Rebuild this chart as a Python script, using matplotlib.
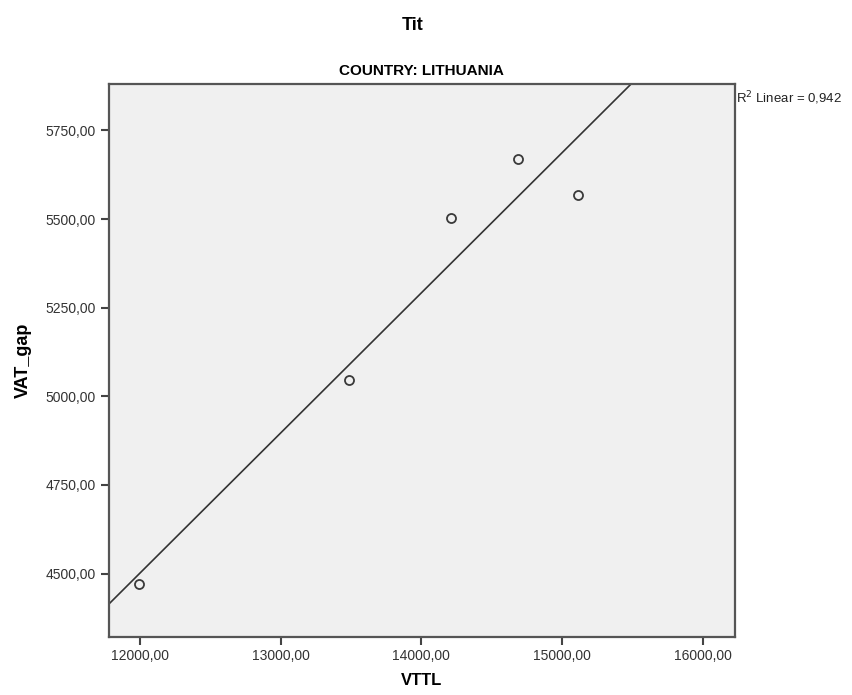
import numpy as np
import matplotlib
matplotlib.use("Agg")
import matplotlib.pyplot as plt
from matplotlib.ticker import FuncFormatter

# VTTL vs VAT_gap, Lithuania
vttl = [11995, 13485, 14208, 14684, 15115]
vat_gap = [4470, 5045, 5502, 5670, 5569]
x_ticks = [12000, 13000, 14000, 15000, 16000]
y_ticks = [4500, 4750, 5000, 5250, 5500, 5750]

plt.rcParams['font.family'] = ['Liberation Sans', 'DejaVu Sans']

fig = plt.figure(figsize=(8.53, 6.95), dpi=100)
ax = fig.add_axes([0.1272, 0.0839, 0.7345, 0.7948])
ax.set_facecolor('#f0f0f0')

xlim = (11776, 16230)
ylim = (4322, 5880)
ax.set_xlim(*xlim)
ax.set_ylim(*ylim)

# linear fit line across the whole x range
slope, icpt = np.polyfit(vttl, vat_gap, 1)
xx = np.array(xlim)
ax.plot(xx, slope * xx + icpt, color='#333333', lw=1.2, zorder=2)

pred = slope * np.array(vttl) + icpt
ss_res = np.sum((np.array(vat_gap) - pred) ** 2)
ss_tot = np.sum((np.array(vat_gap) - np.mean(vat_gap)) ** 2)
r2 = 1 - ss_res / ss_tot

ax.plot(vttl, vat_gap, 'o', ms=6.5, mfc='none', mec='#3a3a3a', mew=1.3, zorder=3)

ax.set_xticks(x_ticks)
ax.set_yticks(y_ticks)
fmt = FuncFormatter(lambda v, p: f"{v:.2f}".replace('.', ','))
ax.xaxis.set_major_formatter(fmt)
ax.yaxis.set_major_formatter(fmt)
ax.tick_params(direction='out', length=6, width=1.5, color='#444444',
               labelsize=10, labelcolor='#333333', pad=3)
ax.tick_params(top=False, right=False)
for s in ax.spines.values():
    s.set_color('#555555')
    s.set_linewidth(1.6)

ax.set_xlabel('VTTL', fontsize=12, fontweight='bold', labelpad=7)
ax.set_ylabel('VAT_gap', fontsize=13, fontweight='bold', labelpad=10)
ax.set_title('COUNTRY: LITHUANIA', fontsize=11, fontweight='bold', pad=7)
fig.text(0.4838, 1 - 25 / 695, 'Tit', fontsize=13, fontweight='bold',
         ha='center', va='center')

ax.text(1.002, 0.975, f"R$^2$ Linear = {r2:.3f}".replace('.', ','),
        transform=ax.transAxes, fontsize=9.5, ha='left', va='center',
        color='#222222')

fig.savefig('out.png', dpi=100)
